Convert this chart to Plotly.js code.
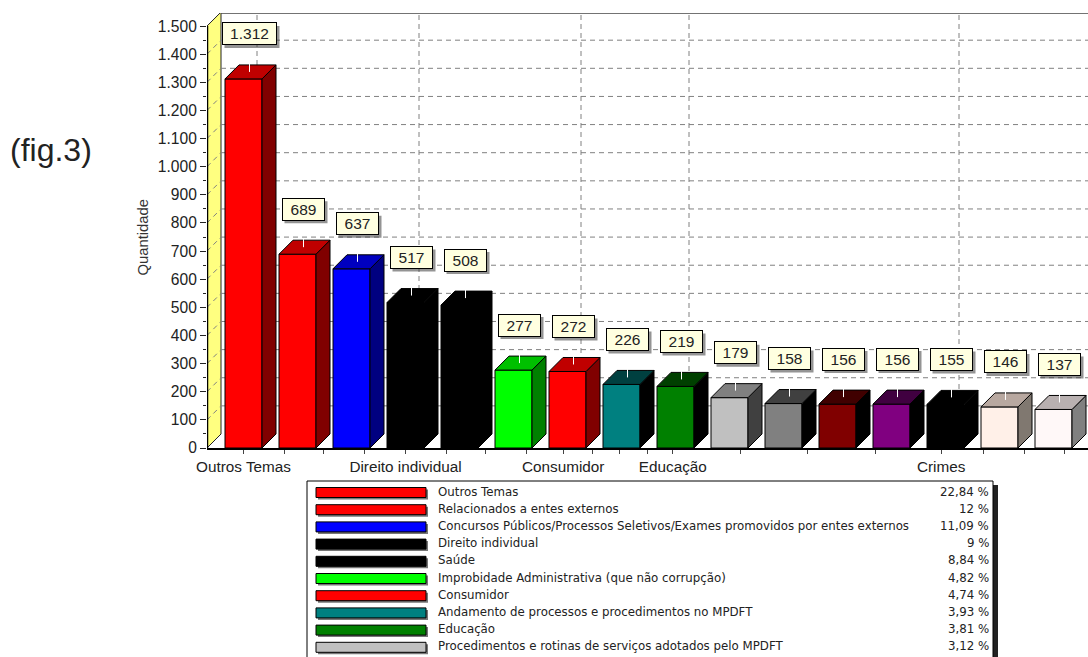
<!DOCTYPE html>
<html><head><meta charset="utf-8">
<script src="https://cdn.plot.ly/plotly-3.0.1.min.js"></script>
<style>html,body{margin:0;padding:0;background:#fff;overflow:hidden}</style>
</head><body><div id="chart" style="width:1088px;height:657px"></div>
<script>
const values = [1312,689,637,517,508,277,272,226,219,179,158,156,156,155,146,137];
const valueLabels = ['1.312','689','637','517','508','277','272','226','219','179','158','156','156','155','146','137'];
const frontColors = ['#ff0000','#ff0000','#0000ff','#000000','#000000','#00ff00','#ff0000','#008080','#008000','#c0c0c0','#808080','#800000','#800080','#000000','#fff0e8','#fff8f8'];
const topColors = ['#c00000','#c00000','#0000c0','#000000','#000000','#00c000','#c00000','#004040','#004000','#808080','#404040','#400000','#400040','#000000','#b8a8a0','#b8b0b0'];
const sideColors = ['#800000','#800000','#000080','#000000','#000000','#008000','#800000','#000000','#000000','#404040','#000000','#000000','#000000','#000000','#807870','#808080'];
const xTickPositions = [0,0.76,1.48,2.24,3,3.76,4.48,5.24,5.92,6.47,6.97,7.49,7.95,9.2,10.44,11.7,12.92,13.7,14.46,15.2];
const xTickTexts = ['Outros Temas','','','','Direito individual','','','','Consumidor','','','','Educação','','','','Crimes','','',''];
const backVerticals = [0.25,3.25,6.25,8.25,13.25];
const legendNames = ['Outros Temas','Relacionados a entes externos','Concursos Públicos/Processos Seletivos/Exames promovidos por entes externos','Direito individual','Saúde','Improbidade Administrativa (que não corrupção)','Consumidor','Andamento de processos e procedimentos no MPDFT','Educação','Procedimentos e rotinas de serviços adotados pelo MPDFT'];
const legendPercents = ['22,84 %','12 %','11,09 %','9 %','8,84 %','4,82 %','4,74 %','3,93 %','3,81 %','3,12 %'];

const W=1088,H=657,L=207,T=13,B=448;
const unitX=54, originX=243.5, pxPerVal=0.2813;
const dX=14/unitX, dY=14/pxPerVal, barW=37/unitX;
const xMin=(L-originX)/unitX, xMax=(W-originX)/unitX, yMax=(B-T)/pxPerVal;
const px=v=>(v-L)/(W-L), py=v=>(B-v)/(B-T);

const shapes=[], annotations=[], traces=[];
const gridLine={color:'#808080',width:1,dash:'5px,4px'};
// yellow side wall
shapes.push({type:'path',xref:'x',yref:'y',layer:'below',
  path:`M ${xMin} 0 L ${xMin+dX} ${dY} L ${xMin+dX} ${1500+dY} L ${xMin} 1500 Z`,
  fillcolor:'#ffff80',line:{color:'#222',width:1}});
for(let v=100;v<=1400;v+=100){
  shapes.push({type:'line',xref:'x',yref:'y',layer:'below',x0:xMin+dX,x1:xMax,y0:v+dY,y1:v+dY,line:gridLine});
  shapes.push({type:'line',xref:'x',yref:'y',layer:'below',x0:xMin,x1:xMin+dX,y0:v,y1:v+dY,line:gridLine});
}
backVerticals.forEach(x=>shapes.push({type:'line',xref:'x',yref:'y',layer:'below',x0:x,x1:x,y0:dY,y1:yMax,line:gridLine}));
// back top edge
shapes.push({type:'line',xref:'x',yref:'y',layer:'below',x0:xMin+dX,x1:xMax,y0:yMax,y1:yMax,line:{color:'#444',width:1.5}});

const xs=values.map((_,i)=>i);
traces.push({type:'bar',x:xs,y:values,width:barW,marker:{color:frontColors,line:{color:'#000',width:1}},hoverinfo:'skip',showlegend:false});
values.forEach((v,i)=>{
  const a=i-barW/2,b=i+barW/2;
  traces.push({type:'scatter',mode:'lines',x:[b,b+dX,b+dX,b,b],y:[0,dY,v+dY,v,0],fill:'toself',fillcolor:sideColors[i],line:{color:'#000',width:1},hoverinfo:'skip',showlegend:false});
  traces.push({type:'scatter',mode:'lines',x:[a,a+dX,b+dX,b,a],y:[v,v+dY,v+dY,v,v],fill:'toself',fillcolor:topColors[i],line:{color:'#000',width:1},hoverinfo:'skip',showlegend:false});
  const lx=i+dX/2-1/unitX;
  traces.push({type:'scatter',mode:'lines',x:[lx,lx],y:[v+dY/2,v+dY+4],line:{color:'#fff',width:1},hoverinfo:'skip',showlegend:false});
  const w=(i===0?55:43);
  const sx=-1.5;
  shapes.push({type:'rect',layer:'above',xref:'x',yref:'y',xsizemode:'pixel',ysizemode:'pixel',xanchor:i+dX/2,yanchor:v+dY,
    x0:-w/2+3+sx,x1:w/2+3+sx,y0:31-11-3,y1:31+11-3,fillcolor:'rgba(60,60,60,0.55)',line:{width:0}});
  annotations.push({x:i+dX/2,y:v+dY,xref:'x',yref:'y',xshift:sx,yshift:31,text:valueLabels[i],showarrow:false,
    width:w-2,height:21,align:'center',valign:'middle',bgcolor:'#ffffe0',bordercolor:'#000',borderwidth:1,borderpad:0,
    font:{family:'Liberation Sans',size:15.5,color:'#222'}});
});

// text outside the plot
annotations.push({xref:'paper',yref:'paper',x:px(8),y:py(150),xanchor:'left',yanchor:'middle',text:'(fig.3)',showarrow:false,
  font:{family:'Liberation Sans',size:32,color:'#222'}});
annotations.push({xref:'paper',yref:'paper',x:px(143),y:py(237.5),xanchor:'center',yanchor:'middle',text:'Quantidade',textangle:-90,showarrow:false,
  font:{family:'Liberation Sans',size:14.8,color:'#333'}});

// legend
shapes.push({type:'rect',xref:'paper',yref:'paper',layer:'above',x0:px(311),x1:px(998),y0:py(485),y1:py(662),fillcolor:'#222',line:{width:0}});
shapes.push({type:'rect',xref:'paper',yref:'paper',layer:'above',x0:px(307),x1:px(993),y0:py(481),y1:py(662),fillcolor:'#fff',line:{color:'#000',width:1}});
legendNames.forEach((name,i)=>{
  const yc=492.5+i*17.2;
  shapes.push({type:'rect',xref:'paper',yref:'paper',layer:'above',x0:px(318),x1:px(428),y0:py(yc-3),y1:py(yc+7),fillcolor:'#777',line:{width:0}});
  shapes.push({type:'rect',xref:'paper',yref:'paper',layer:'above',x0:px(316),x1:px(426),y0:py(yc-5),y1:py(yc+5),fillcolor:frontColors[i],line:{color:'#000',width:1}});
  annotations.push({xref:'paper',yref:'paper',x:px(436),y:py(yc-1),xanchor:'left',yanchor:'middle',text:name,showarrow:false,
    font:{family:'DejaVu Sans',size:11.8,color:'#222'}});
  annotations.push({xref:'paper',yref:'paper',x:px(991),y:py(yc-1),xanchor:'right',yanchor:'middle',text:legendPercents[i],showarrow:false,
    font:{family:'DejaVu Sans',size:11.8,color:'#222'}});
});

const layout={width:W,height:H,margin:{l:L,r:0,t:T,b:H-B},paper_bgcolor:'#fff',plot_bgcolor:'#fff',
  separators:',.',showlegend:false,shapes,annotations,bargap:0,
  xaxis:{range:[xMin,xMax],tickmode:'array',tickvals:xTickPositions,ticktext:xTickTexts,ticks:'outside',ticklen:4,tickcolor:'#444',
    showgrid:false,zeroline:false,showline:true,linecolor:'#000',linewidth:2,tickangle:0,
    tickfont:{family:'Liberation Sans',size:15.3,color:'#222'},automargin:false},
  yaxis:{range:[0,yMax],tickmode:'array',tickvals:[0,100,200,300,400,500,600,700,800,900,1000,1100,1200,1300,1400,1500],tickformat:',d',
    ticks:'outside',ticklen:6,tickcolor:'#222',showgrid:false,zeroline:false,showline:false,
    minor:{tickmode:'array',tickvals:[50,150,250,350,450,550,650,750,850,950,1050,1150,1250,1350,1450],ticks:'outside',ticklen:3,tickcolor:'#222'},
    tickfont:{family:'Liberation Sans',size:15.6,color:'#222'},automargin:false}};
shapes.push({type:'line',xref:'x',yref:'y',x0:xMin,x1:xMin,y0:0,y1:1500,line:{color:'#000',width:2.5},layer:'above'});
Plotly.newPlot('chart',traces,layout,{displayModeBar:false,staticPlot:true});
</script></body></html>
